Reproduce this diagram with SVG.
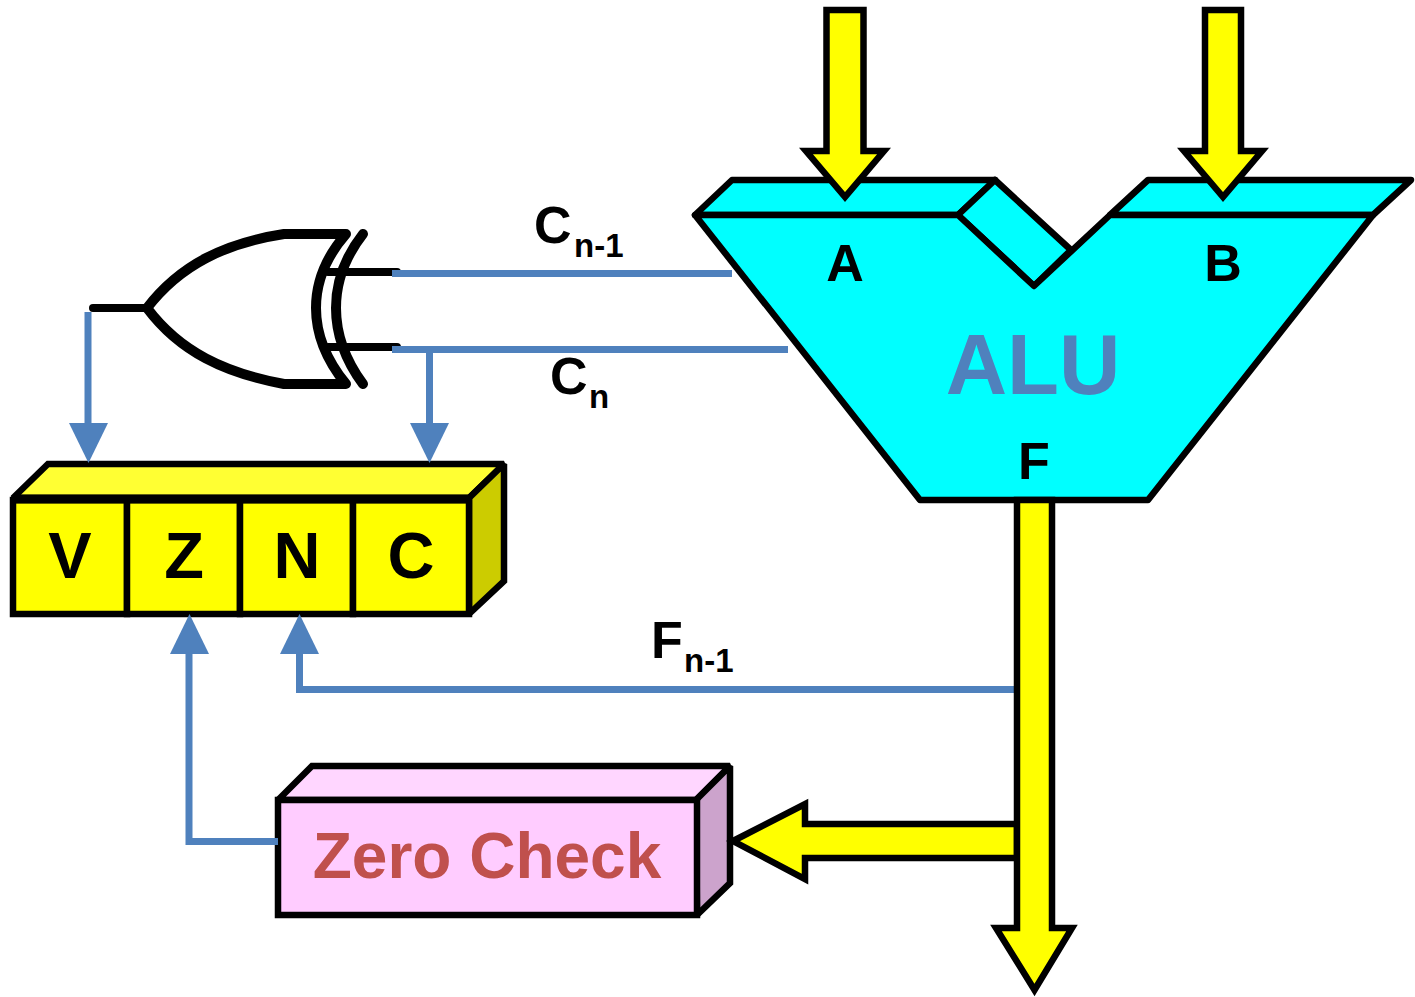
<svg xmlns="http://www.w3.org/2000/svg" width="1415" height="997" viewBox="0 0 1415 997">
<defs>
<style>
text{font-family:"Liberation Sans",Arial,sans-serif;font-weight:700;fill:#000}
.k{stroke:#000;stroke-width:6.500;stroke-linejoin:miter}
.n{stroke-miterlimit:2}
.r{stroke-linejoin:round}
.y{fill:#FFFF00}
.c{fill:#00FFFF}
.g{fill:none;stroke:#000;stroke-width:10;stroke-linecap:round;stroke-linejoin:round}
.w{fill:none;stroke:#000;stroke-width:8;stroke-linecap:round}
.b{fill:none;stroke:#4F81BD;stroke-width:7}
.h{fill:#4F81BD}
.l{font-size:52px}
.s{font-size:33px}
.f{font-size:65px;text-anchor:middle}
.m{font-size:52px;text-anchor:middle}
</style>
</defs>
<rect width="1415" height="997" fill="#fff"/>
<g id="alu">
<path class="k r c" d="M695 215L732 180H995L958 215Z"/>
<path class="k r c" d="M1110 215L1148 180H1411L1373 215Z"/>
<path class="k r c" d="M958 215L995 180L1071 250L1034 286Z"/>
<path class="k r c" d="M695 215H958L1034 286L1110 215H1373L1148 500H920Z"/>
<text class="m" x="845" y="281">A</text>
<text class="m" x="1223" y="281">B</text>
<text x="1033" y="394" font-size="85" text-anchor="middle" style="fill:#4F81BD">ALU</text>
<text class="m" x="1034" y="479">F</text>
</g>
<g id="gate">
<path class="w" d="M93 308H147"/>
<path class="g" d="M147 308C180 265 225 243 284 234H346C306 280 306 335 346 384H284C225 373 180 352 147 308Z"/>
<path class="g" d="M363 234C327 280 327 335 363 384"/>
<path class="w" d="M328 272H397M328 347H397"/>
</g>
<g id="register">
<path class="k n" fill="#FFFF33" d="M13 498L48 464H504L469 498Z"/>
<path class="k n" fill="#CCCC00" d="M469 498L504 464V581L469 614Z"/>
<rect class="k y" x="13" y="500" width="114" height="114"/>
<rect class="k y" x="127" y="500" width="113" height="114"/>
<rect class="k y" x="240" y="500" width="113" height="114"/>
<rect class="k y" x="353" y="500" width="116" height="114"/>
<path stroke="#000" stroke-width="9" d="M13 499H469"/>
<text class="f" x="70" y="578">V</text>
<text class="f" x="184" y="578">Z</text>
<text class="f" x="297" y="578">N</text>
<text class="f" x="411" y="578">C</text>
</g>
<g id="zero-check">
<path class="k n" fill="#FFD6FF" d="M278 800L312 766H730L696 800Z"/>
<path class="k n" fill="#CCA3CC" d="M696 800L730 766V883L697 915Z"/>
<rect class="k" fill="#FFCCFF" x="278" y="800" width="419" height="115"/>
<text x="487" y="878" font-size="64" text-anchor="middle" style="fill:#C0504D">Zero Check</text>
</g>
<g id="connectors">
<path class="b" d="M392 273.500H732"/>
<path class="b" d="M392 349.500H788"/>
<path class="b" d="M429.500 349V426"/>
<path class="b" d="M88 312V426"/>
<path class="b" d="M299.500 652V689.500H1014"/>
<path class="b" d="M278 841.500H189V652"/>
<path class="h" d="M69 423H108L88.500 463Z"/>
<path class="h" d="M410 423H449L429.500 463Z"/>
<path class="h" d="M170 654H209L189.500 614Z"/>
<path class="h" d="M280 654H319L299.500 614Z"/>
<path class="k y" d="M845 197L806 151H826.500V10H863.500V151H884Z"/>
<path class="k y" d="M1223 197L1184 151H1205V10H1241V151H1262Z"/>
<path class="k y" d="M733 841L805 804V824H1017V858H805V879Z"/>
<path class="k y" d="M1017 500H1052V928H1072L1034.500 990L996 928H1017Z"/>
</g>
<g id="labels">
<text class="l" x="534" y="243">C</text><text class="s" x="574" y="257">n-1</text>
<text class="l" x="550" y="394">C</text><text class="s" x="589" y="408">n</text>
<text class="l" x="651" y="658">F</text><text class="s" x="684" y="672">n-1</text>
</g>
</svg>
